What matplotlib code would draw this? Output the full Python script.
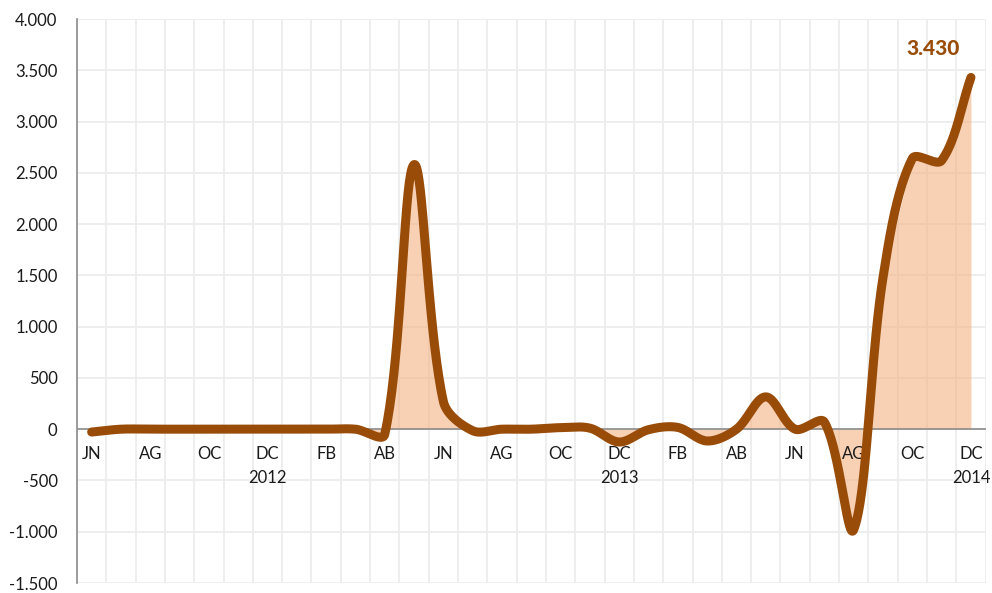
import numpy as np
import matplotlib.pyplot as plt
from matplotlib.ticker import FuncFormatter, MultipleLocator

plt.switch_backend('Agg')
plt.rcParams['font.family'] = ['Lato', 'DejaVu Sans']

# monthly values, JN 2012 .. DC 2014
months = ['JN', 'JL', 'AG', 'SE', 'OC', 'NV', 'DC',
          'EN', 'FB', 'MR', 'AB', 'MY', 'JN', 'JL', 'AG', 'SE', 'OC', 'NV', 'DC',
          'EN', 'FB', 'MR', 'AB', 'MY', 'JN', 'JL', 'AG', 'SE', 'OC', 'NV', 'DC']
year_labels = {6: '2012', 18: '2013', 30: '2014'}
values = [-28, 0, 0, 0, 0, 0, 0,
          0, 0, 0, -50, 2580, 270, -15, 0, 0, 15, 10, -125,
          -5, 17, -115, 0, 315, 0, 69, -980, 1480, 2640, 2620, 3430]

LINE = '#994C08'
FILL = '#F4B183'
GRID = '#EDEDED'
AXIS = '#8C8C8C'
TEXT = '#1A1A1A'


def smooth_line(xs, ys, sx, sy, n=40):
    """Excel-like smoothed line: Bezier segments, control points scaled by pixel segment lengths."""
    px = np.asarray(xs, float) * sx
    py = np.asarray(ys, float) * sy
    pts = np.column_stack([px, py])
    out = []
    m = len(pts)
    for i in range(m - 1):
        p0 = pts[max(i - 1, 0)]
        p1 = pts[i]
        p2 = pts[i + 1]
        p3 = pts[min(i + 2, m - 1)]
        d01 = np.hypot(*(p1 - p0))
        d12 = np.hypot(*(p2 - p1))
        d23 = np.hypot(*(p3 - p2))
        c1 = p1 + (p2 - p0) * (d12 / (d01 + d12)) / 3
        c2 = p2 - (p3 - p1) * (d12 / (d12 + d23)) / 3
        t = np.linspace(0, 1, n)[:, None]
        seg = ((1 - t) ** 3) * p1 + 3 * ((1 - t) ** 2) * t * c1 + 3 * (1 - t) * t ** 2 * c2 + t ** 3 * p2
        out.append(seg if i == 0 else seg[1:])
    out = np.vstack(out)
    return out[:, 0] / sx, out[:, 1] / sy


fig = plt.figure(figsize=(9.92, 5.93), dpi=100)
ax = fig.add_axes([77 / 992, 1 - 583 / 593, (985.6 - 77) / 992, (583 - 19) / 593])

x = np.arange(len(values))
ax.set_xlim(-0.5, len(values) - 0.5)
ax.set_ylim(-1500, 4000)

# area under the data (straight segments), semi transparent
ax.fill_between(x, values, 0, color=FILL, alpha=0.6, linewidth=0, zorder=2)

# smoothed line on top, pixel scale used for the smoothing
sx = 29.3
sy = 564 / 5500
lx, ly = smooth_line(x, values, sx, sy)
ax.plot(lx, ly, color=LINE, lw=6.5, solid_capstyle='round', solid_joinstyle='round', zorder=4)

ax.axhline(0, color=AXIS, lw=1.2, zorder=3)

# grid
ax.yaxis.set_major_locator(MultipleLocator(500))
ax.yaxis.set_major_formatter(FuncFormatter(lambda v, p: f'{int(round(v)):,}'.replace(',', '.')))
ax.set_xticks([])
ax.set_xticks(np.arange(-0.5, len(values), 1), minor=True)
ax.grid(which='minor', axis='x', color=GRID, lw=1.3, zorder=0)
ax.grid(which='major', axis='y', color=GRID, lw=1.3, zorder=0)
ax.set_axisbelow(True)
ax.tick_params(axis='y', length=0, pad=14, labelsize=12, labelcolor=TEXT)
ax.tick_params(axis='x', which='both', length=0)

for s in ['top', 'right', 'bottom']:
    ax.spines[s].set_visible(False)
ax.spines['left'].set_color(AXIS)
ax.spines['left'].set_linewidth(1.2)

# category labels sit under the zero line
for i, m in enumerate(months):
    if i % 2 == 0:
        ax.annotate(m, (i, 0), xytext=(0, -18), textcoords='offset points',
                    ha='center', va='center', fontsize=12, color=TEXT)
for i, yr in year_labels.items():
    ax.annotate(yr, (i, 0), xytext=(0, -35.5), textcoords='offset points',
                ha='center', va='center', fontsize=12, color=TEXT)

# last value label
ax.annotate(f'{values[-1]:,}'.replace(',', '.'), (x[-1], values[-1]), xytext=(-27, 20.5),
            textcoords='offset points', ha='center', va='center',
            fontsize=15, fontweight='black', color=LINE)

fig.savefig('out.png', dpi=100, facecolor='white')
